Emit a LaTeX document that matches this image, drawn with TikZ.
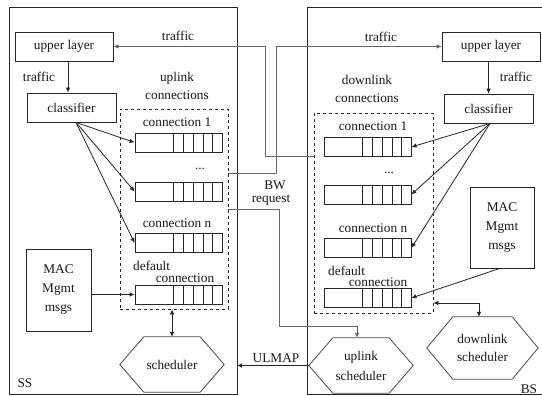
\documentclass[tikz,border=0pt]{standalone}
\usepackage{fontspec}
\setmainfont{Liberation Serif}
\usetikzlibrary{arrows.meta,calc}
\newcommand{\hexshape}[2]{\draw[hexline] (#1.west) -- ([xshift=#2]#1.north west) -- ([xshift=-#2]#1.north east) -- (#1.east) -- ([xshift=-#2]#1.south east) -- ([xshift=#2]#1.south west) -- cycle;}
\begin{document}
\begin{tikzpicture}[x=1pt,y=-1pt,
  every node/.style={font=\fontsize{13.3}{19}\selectfont, inner sep=0pt, text=black!90},
  blk/.style={draw=black!85, line width=0.8pt},
  hexline/.style={draw=black!70, line width=0.8pt},
  dbox/.style={draw=black!85, line width=0.8pt, dash pattern=on 3pt off 3pt},
  queue/.style={draw=black!85, line width=0.8pt, minimum width=87pt, minimum height=19pt,
    path picture={\foreach \f in {0.44,0.555,0.67,0.785,0.895}{\draw[black!85, line width=0.8pt] ($(path picture bounding box.south west)!\f!(path picture bounding box.south east)$) -- ($(path picture bounding box.north west)!\f!(path picture bounding box.north east)$);}}},
  arr/.style={-{Latex[length=5pt,width=4.5pt]}, line width=0.8pt, draw=black!85},
  darr/.style={{Latex[length=5pt,width=4.5pt]}-{Latex[length=5pt,width=4.5pt]}, line width=0.8pt, draw=black!85},
  garr/.style={-{Latex[length=5pt,width=4.5pt]}, line width=0.8pt, draw=black!60},
  gline/.style={line width=0.8pt, draw=black!60}]
\useasboundingbox (0,0) rectangle (542,396);
\fill[white] (0,0) rectangle (542,396);
% station boxes
\draw[blk] (9,7) rectangle (237,394);
\draw[blk] (307,7) rectangle (560,394);
\coordinate (sse) at (237,0);
\node (sslab) at (25,383) {SS};
\node (bslab) at (529,389) {BS};
% SS side
\node[blk, minimum width=98pt, minimum height=29pt] (ul1) at (64,46.5) {upper layer};
\node[blk, minimum width=89pt, minimum height=29pt] (cls1) at (71.5,107.5) {classifier};
\node (tr1) at (39,77) {traffic};
\node[align=center, font=\fontsize{13.3}{18}\selectfont] (upl) at (177,86) {uplink\\connections};
\node[dbox, minimum width=108pt, minimum height=200pt] (ulbox) at (174,209) {};
\node (c1a) at (177,122) {connection 1};
\node[queue] (q1a) at (178.5,142.5) {};
\node (dots1) at (200,169) {...};
\node[queue] (q2a) at (178.5,191.5) {};
\node (cna) at (177,223) {connection n};
\node[queue] (qna) at (178.5,243) {};
\node[anchor=west] (dfa) at (133,266) {default};
\node (dca) at (185,278.5) {connection};
\node[queue] (qda) at (178.5,294.5) {};
\node[blk, minimum width=65pt, minimum height=82pt, align=center] (mac1) at (58.5,290) {MAC\\Mgmt\\msgs};
\node[minimum width=104pt, minimum height=55pt] (sch) at (172,364.5) {scheduler};
\hexshape{sch}{24pt}
% BS side
\node[blk, minimum width=98pt, minimum height=29pt] (ul2) at (491,46.5) {upper layer};
\node[blk, minimum width=89pt, minimum height=29pt] (cls2) at (488.5,108.5) {classifier};
\node (tr2) at (516,77) {traffic};
\node[align=center, font=\fontsize{13.3}{18}\selectfont] (dnl) at (367,89) {downlink\\connections};
\node[dbox, minimum width=119pt, minimum height=200pt] (dlbox) at (373.5,213) {};
\node (c1b) at (373,126) {connection 1};
\node[queue] (q1b) at (367.5,147) {};
\node (dots2) at (389,173) {...};
\node[queue] (q2b) at (367.5,194.5) {};
\node (cnb) at (373,228) {connection n};
\node[queue] (qnb) at (367.5,248) {};
\node[anchor=west] (dfb) at (328,271) {default};
\node (dcb) at (378,282.5) {connection};
\node[queue] (qdb) at (367.5,298) {};
\node[blk, minimum width=64pt, minimum height=81pt, align=center] (mac2) at (502,227.5) {MAC\\Mgmt\\msgs};
\node[minimum width=111pt, minimum height=62pt, align=center, font=\fontsize{13.3}{18}\selectfont] (dsch) at (482.5,348) {downlink\\scheduler};
\hexshape{dsch}{26pt}
\node[minimum width=104pt, minimum height=55pt, align=center, font=\fontsize{13.3}{20}\selectfont] (usch) at (361,365.5) {uplink\\scheduler};
\hexshape{usch}{24pt}
% labels between stations
\node (trA) at (178,36) {traffic};
\node (trB) at (381,37) {traffic};
\node (bw) at (275,185) {BW};
\node (req) at (271,200) {request};
\node (ulmap) at (276,358) {ULMAP};
% SS connectors
\draw[arr] ([xshift=4pt]ul1.south) -- ([xshift=4pt]ul1.south |- cls1.north);
\draw[arr] ([xshift=4.5pt]cls1.south) -- (q1a.west);
\draw[arr] ([xshift=4.5pt]cls1.south) -- (q2a.west);
\draw[arr] ([xshift=4.5pt]cls1.south) -- (qna.west);
\draw[arr] (qda.west -| mac1.east) -- (qda.west);
\draw[darr] (sch.north |- ulbox.south) -- (sch.north);
% BS connectors
\draw[arr] (ul2.south -| cls2.north) -- (cls2.north);
\draw[arr] ([xshift=1.5pt]cls2.south) -- (q1b.east);
\draw[arr] ([xshift=1.5pt]cls2.south) -- (q2b.east);
\draw[arr] ([xshift=1.5pt]cls2.south) -- (qnb.east);
\draw[arr] ([xshift=-2pt]mac2.south) -- (qdb.east);
\coordinate (dj) at (479,303);
\draw[darr] (dlbox.east |- dj) -| ([xshift=-3.5pt]dsch.north);
% inter-station connectors
\coordinate (a1) at (265,156);
\draw[garr] (dlbox.west |- a1) -- (a1) |- (ul1.east);
\coordinate (b1) at (276,173);
\draw[garr] (ulbox.east |- b1) -- (b1) |- (ul2.west);
\coordinate (c1) at (279,209);
\coordinate (c2) at (279,326);
\draw[garr] (ulbox.east |- c1) -- (c1) -- (c2) -| ([xshift=-4pt]usch.north);
\draw[arr] (usch.west) -- (usch.west -| sse);
\end{tikzpicture}
\end{document}
